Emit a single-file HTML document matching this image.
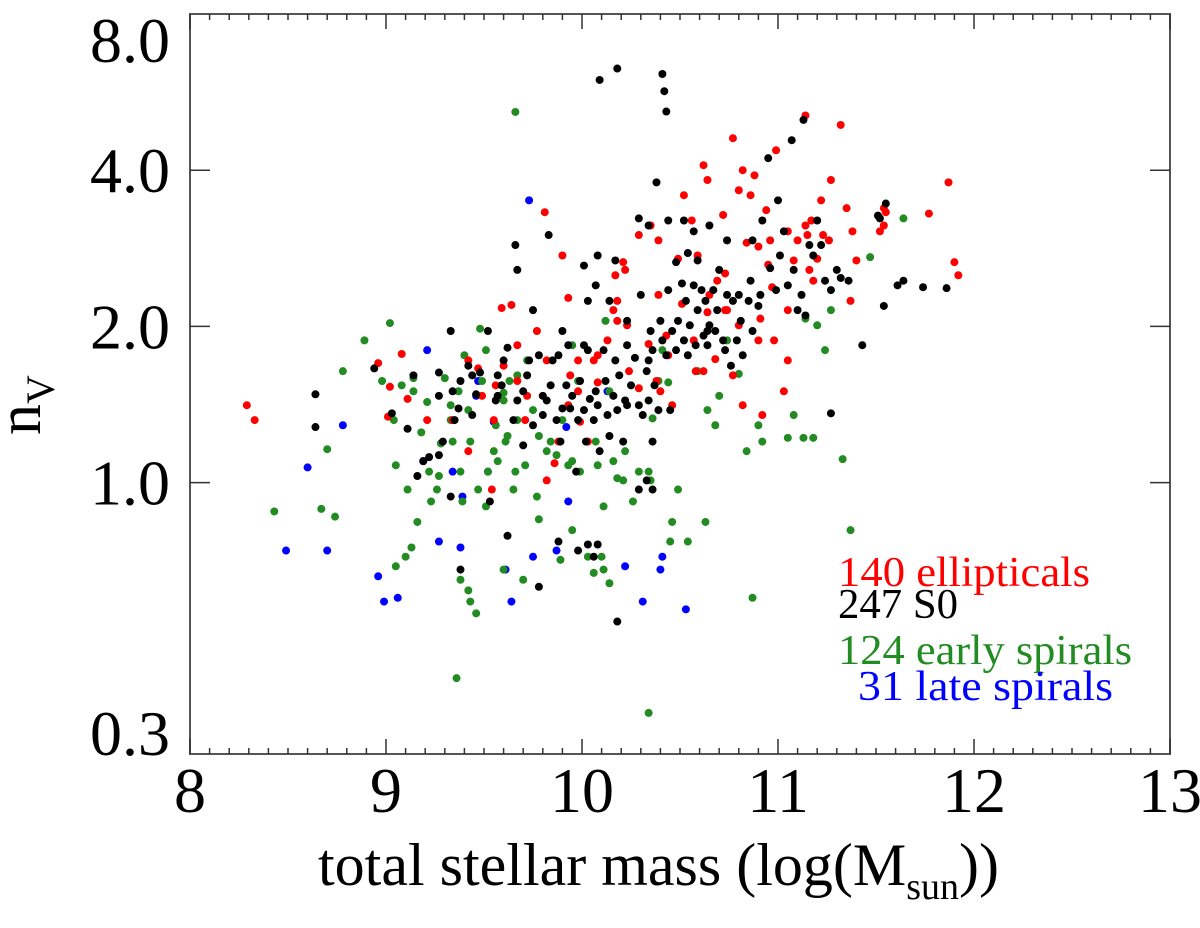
<!DOCTYPE html>
<html><head><meta charset="utf-8"><style>
html,body{margin:0;padding:0;background:#fff;}
svg{display:block;font-family:"Liberation Serif",serif;}
</style></head><body>
<svg id="chart" width="1200" height="928" viewBox="0 0 1200 928">
<rect x="0" y="0" width="1200" height="928" fill="#fff"/>
<g id="axes"></g>
<g id="points"></g>
<text x="40" y="405" font-size="62" text-anchor="middle" transform="rotate(-90 40 405)">n<tspan font-size="40" dy="14">V</tspan></text>
<text x="318" y="885" font-size="60">total stellar mass (log(M<tspan font-size="38" dy="14">sun</tspan><tspan dy="-14">))</tspan></text>
<g font-size="42">
<text x="838" y="586" fill="#ff0000" textLength="252" lengthAdjust="spacingAndGlyphs">140 ellipticals</text>
<text x="838" y="618" fill="#000" textLength="120" lengthAdjust="spacingAndGlyphs">247 S0</text>
<text x="838" y="664" fill="#228b22" textLength="294" lengthAdjust="spacingAndGlyphs">124 early spirals</text>
<text x="858" y="700" fill="#0000ff" textLength="255" lengthAdjust="spacingAndGlyphs">31 late spirals</text>
</g>
</svg>
<script>
const xTicks = [8,9,10,11,12,13];
const yTicks = [8.0,4.0,2.0,1.0,0.3];
const yTickLabels = ["8.0","4.0","2.0","1.0","0.3"];
const ellipticals = [[8.29,1.41],[8.33,1.32],[8.96,1.70],[9.02,1.53],[9.01,1.34],[9.08,1.77],[9.21,1.32],[9.34,1.32],[9.54,0.97],[9.64,2.20],[9.67,1.57],[9.71,1.32],[9.77,1.96],[9.82,1.72],[9.81,3.32],[9.86,1.09],[9.93,2.27],[9.94,1.61],[9.99,1.31],[10.03,1.20],[10.08,1.56],[10.13,1.88],[10.16,2.15],[10.17,2.51],[10.18,2.05],[10.21,2.66],[10.22,2.57],[10.24,1.64],[10.29,1.52],[10.34,1.85],[10.39,2.30],[10.40,1.50],[10.43,1.92],[10.46,1.41],[10.49,2.70],[10.51,2.21],[10.57,1.88],[10.58,1.64],[10.59,2.74],[10.62,1.64],[10.65,2.30],[10.69,2.45],[10.64,3.83],[10.72,3.28],[10.73,2.53],[10.74,2.15],[10.77,1.61],[10.80,2.01],[10.82,1.41],[10.84,2.90],[10.86,3.58],[10.88,3.91],[10.90,1.88],[10.92,1.35],[10.94,3.35],[10.95,2.63],[10.96,2.93],[10.98,1.88],[10.99,4.37],[11.03,1.50],[11.05,1.72],[11.08,2.68],[11.10,2.93],[11.14,5.10],[11.15,3.0],[11.16,2.57],[11.05,3.05],[11.18,2.45],[11.22,3.50],[11.26,2.93],[11.27,3.83],[11.32,4.89],[11.35,3.38],[11.37,2.24],[11.40,2.68],[11.38,3.05],[11.54,3.38],[11.55,3.32],[11.54,3.13],[11.52,3.05],[11.77,3.30],[11.87,3.79],[11.90,2.66],[11.92,2.51],[10.80,3.66],[10.82,4.0],[10.77,4.61],[10.62,4.09],[10.56,3.20],[10.52,3.58],[10.39,2.93],[10.35,3.13],[10.29,3.0],[10.23,2.01],[10.08,1.76],[9.98,1.72],[9.93,1.41],[9.88,1.20],[9.82,1.01],[9.72,1.47],[9.67,1.84],[9.60,1.68],[9.55,1.32],[9.56,1.54],[9.49,1.47],[9.42,1.15],[9.11,1.45],[9.42,1.72],[9.47,1.66],[9.59,2.17],[9.90,2.74],[9.98,1.50],[10.06,1.72],[10.18,2.24],[10.38,1.57],[10.44,1.76],[10.64,2.13],[10.68,1.73],[10.73,2.15],[10.91,2.07],[10.97,2.38],[11.05,2.15],[11.14,3.13],[11.17,3.20],[11.20,2.70],[11.23,3.0],[10.90,2.85]];
const s0 = [[8.64,1.48],[8.64,1.28],[9.03,1.36],[8.94,1.66],[9.11,1.27],[9.14,1.61],[9.22,1.12],[9.27,1.47],[9.27,1.63],[9.29,1.20],[9.33,1.96],[9.34,1.50],[9.37,1.39],[9.38,1.57],[9.42,1.68],[9.44,1.35],[9.46,1.48],[9.48,1.63],[9.52,1.96],[9.53,0.92],[9.56,1.44],[9.57,1.61],[9.59,1.54],[9.62,1.82],[9.65,1.32],[9.67,1.44],[9.70,1.18],[9.72,1.61],[9.75,1.29],[9.78,1.76],[9.80,1.35],[9.82,1.44],[9.84,1.54],[9.85,1.72],[9.87,1.32],[9.89,1.20],[9.90,1.39],[9.92,1.54],[9.93,1.84],[9.94,1.39],[9.95,1.47],[9.97,1.05],[9.98,1.32],[9.99,1.57],[10.01,1.38],[10.02,1.20],[10.03,1.80],[10.04,1.45],[10.06,1.32],[10.07,1.50],[10.08,1.41],[10.09,1.15],[10.11,1.80],[10.12,1.57],[10.13,1.35],[10.14,1.23],[10.16,1.47],[10.17,1.72],[10.18,1.38],[10.19,1.61],[10.21,1.20],[10.22,1.44],[10.23,1.84],[10.25,1.54],[10.27,1.74],[10.29,1.41],[10.30,2.30],[10.31,1.35],[10.33,1.64],[10.34,1.44],[10.35,1.96],[10.36,1.80],[10.37,1.54],[10.39,1.38],[10.40,2.05],[10.41,1.88],[10.43,1.76],[10.44,2.35],[10.45,1.38],[10.46,1.96],[10.48,1.80],[10.49,2.05],[10.51,2.42],[10.52,1.88],[10.53,2.24],[10.54,1.76],[10.55,2.01],[10.57,2.40],[10.58,1.84],[10.59,2.15],[10.61,2.35],[10.62,1.92],[10.63,2.24],[10.64,1.84],[10.65,2.01],[10.67,2.35],[10.68,1.96],[10.69,2.15],[10.70,2.57],[10.72,1.88],[10.73,1.80],[10.74,2.30],[10.76,1.68],[10.77,2.24],[10.79,1.88],[10.80,2.30],[10.81,2.05],[10.82,1.76],[10.85,2.24],[10.86,2.45],[10.87,1.96],[10.90,2.19],[10.91,2.30],[10.92,3.20],[10.95,4.22],[10.96,2.59],[10.99,2.35],[11.0,3.50],[11.01,2.74],[11.03,3.05],[11.05,2.40],[11.07,4.57],[11.08,2.57],[11.10,2.15],[11.12,2.30],[11.13,5.0],[11.14,2.10],[11.16,2.87],[11.18,2.74],[11.20,3.20],[11.22,2.87],[11.24,2.45],[11.27,2.35],[11.30,2.57],[11.32,2.48],[11.36,2.45],[11.43,1.84],[11.51,3.27],[11.52,3.23],[11.54,2.19],[11.55,3.45],[11.61,2.40],[11.64,2.45],[11.74,2.38],[11.86,2.37],[11.27,1.36],[10.18,0.54],[10.08,0.76],[10.06,0.72],[10.09,5.97],[10.18,6.28],[10.41,6.13],[10.42,5.68],[10.43,5.19],[10.38,3.79],[10.17,2.68],[10.08,2.74],[10.07,2.40],[10.01,2.62],[9.67,2.57],[9.66,2.87],[9.83,3.0],[9.90,1.96],[9.75,2.15],[9.60,1.72],[9.57,1.47],[9.44,1.61],[9.35,1.32],[9.27,1.13],[9.19,1.10],[9.16,1.03],[9.33,0.94],[9.38,0.68],[9.62,0.79],[9.78,0.63],[9.88,0.77],[9.98,0.74],[10.03,0.76],[10.23,1.41],[10.34,1.72],[10.33,1.01],[10.29,0.97],[10.36,0.97],[10.36,1.20],[10.44,3.20],[10.52,3.20],[10.54,2.77],[10.57,3.05],[10.64,1.96],[10.65,3.13],[10.29,3.23],[10.34,3.13],[10.23,2.05],[10.14,2.24],[10.01,1.84],[9.88,1.76],[9.80,1.47],[9.73,1.72],[9.70,1.50],[10.03,2.24],[10.48,2.66],[10.59,2.68],[10.74,2.93],[10.87,2.93]];
const earlySpirals = [[8.43,0.88],[8.67,0.89],[8.70,1.16],[8.74,0.86],[8.78,1.64],[8.89,1.88],[8.98,1.57],[9.02,2.03],[9.04,1.32],[9.05,1.08],[9.05,0.69],[9.08,1.54],[9.11,0.97],[9.13,0.75],[9.14,1.59],[9.16,0.84],[9.18,1.25],[9.21,1.43],[9.22,1.05],[9.23,0.92],[9.26,0.97],[9.27,1.03],[9.28,1.19],[9.30,1.59],[9.33,1.32],[9.34,1.20],[9.37,1.50],[9.38,1.05],[9.39,0.92],[9.40,1.76],[9.43,1.20],[9.43,0.59],[9.46,0.56],[9.47,0.97],[9.48,1.98],[9.49,1.57],[9.51,0.90],[9.52,1.05],[9.55,1.15],[9.56,1.29],[9.57,1.10],[9.60,1.44],[9.61,1.20],[9.63,1.57],[9.65,0.97],[9.66,1.05],[9.67,1.61],[9.71,1.08],[9.72,1.72],[9.75,1.38],[9.77,0.94],[9.78,0.85],[9.82,1.15],[9.84,1.20],[9.87,1.13],[9.90,1.32],[9.93,1.08],[9.95,1.10],[9.98,1.57],[9.99,1.05],[10.03,0.72],[10.06,0.67],[10.07,1.20],[10.08,1.08],[10.10,0.72],[10.11,0.68],[10.12,2.05],[10.14,1.50],[10.16,1.10],[10.18,1.02],[10.21,1.01],[10.22,1.15],[10.26,0.92],[10.29,1.05],[10.34,1.05],[10.35,1.01],[10.36,1.33],[10.39,1.57],[10.41,1.80],[10.44,1.56],[10.45,0.77],[10.46,0.84],[10.49,0.97],[10.54,0.77],[10.59,1.64],[10.63,0.84],[10.64,1.38],[10.68,1.29],[10.70,1.47],[10.74,1.88],[10.80,1.62],[10.84,1.15],[10.87,0.60],[10.90,1.29],[10.92,1.20],[11.05,1.22],[11.08,1.35],[11.13,1.22],[11.14,2.07],[11.18,1.22],[11.20,2.01],[11.24,1.80],[11.27,2.15],[11.33,1.11],[11.37,0.81],[11.47,2.72],[11.64,3.23],[9.36,0.42],[10.34,0.36],[10.14,0.64],[10.11,0.90],[9.95,0.81],[9.89,0.71],[9.95,1.84],[9.78,1.23],[9.67,1.32],[9.62,1.23],[9.60,1.49],[9.51,1.80],[9.42,1.38],[9.33,1.41],[9.14,1.50],[9.10,0.72],[9.38,0.65],[9.42,0.62],[9.60,0.68],[9.70,0.65],[9.66,5.18]];
const lateSpirals = [[8.49,0.74],[8.60,1.07],[8.70,0.74],[8.78,1.29],[8.96,0.66],[8.99,0.59],[9.06,0.60],[9.19,1.10],[9.21,1.80],[9.27,0.77],[9.34,1.05],[9.38,0.75],[9.39,0.94],[9.46,1.47],[9.52,1.05],[9.55,1.31],[9.61,0.68],[9.64,0.59],[9.73,3.50],[9.75,0.72],[9.87,0.74],[9.92,1.28],[9.93,0.92],[10.13,1.50],[10.22,0.69],[10.40,0.68],[10.41,0.72],[10.53,0.57],[10.31,0.59],[9.47,1.57]];

const NS = "http://www.w3.org/2000/svg";
const L = 190, R = 1170, T = 14, B = 754;
const xMin = 8, xMax = 13, yMin = 0.3, yMax = 8.0;
function xPos(v){ return L + (v - xMin) / (xMax - xMin) * (R - L); }
function yPos(v){ return B - (Math.log(v) - Math.log(yMin)) / (Math.log(yMax) - Math.log(yMin)) * (B - T); }
function mk(tag, attrs, parent){
  const e = document.createElementNS(NS, tag);
  for (const k in attrs) e.setAttribute(k, attrs[k]);
  parent.appendChild(e);
  return e;
}
const axes = document.getElementById('axes');
const frame = mk('rect', {x:L, y:T, width:R-L, height:B-T, fill:'none', stroke:'#555', 'stroke-width':2}, axes);


for (let i = 0; i <= (xMax - xMin) * 10; i++) {
  const v = xMin + i / 10;
  const x = xPos(v);
  const major = i % 10 === 0;
  const len = major ? 15 : 6;
  mk('line', {x1:x, y1:B, x2:x, y2:B-len, stroke:'#333', 'stroke-width':1.5}, axes);
  mk('line', {x1:x, y1:T, x2:x, y2:T+len, stroke:'#333', 'stroke-width':1.5}, axes);
}
xTicks.forEach(v => {
  const t = mk('text', {x:xPos(v), y:812, 'font-size':64, 'text-anchor':'middle'}, axes);
  t.textContent = String(v);
  
  
});
yTicks.forEach((v, i) => {
  const y = yPos(v);
  if (v !== 0.3 && v !== 8.0) {
    mk('line', {x1:L, y1:y, x2:L+20, y2:y, stroke:'#333', 'stroke-width':1.5}, axes);
    mk('line', {x1:R, y1:y, x2:R-20, y2:y, stroke:'#333', 'stroke-width':1.5}, axes);
  }
  let by = y + 22;
  if (v === 8.0) by = 62;
  if (v === 0.3) by = 755;
  const t = mk('text', {x:170, y:by, 'font-size':64, 'text-anchor':'end'}, axes);
  t.textContent = yTickLabels[i];
  
  
});
const pts = document.getElementById('points');
function drawSeries(data, color, name){
  const g = mk('g', {fill:color}, pts);
  
  
  data.forEach(d => {
    const c = mk('circle', {cx:xPos(d[0]), cy:yPos(d[1]), r:4}, g);
    
    
  });
}
drawSeries(lateSpirals, '#0000ff', 'late-spiral');
drawSeries(earlySpirals, '#228b22', 'early-spiral');
drawSeries(ellipticals, '#ff0000', 'elliptical');
drawSeries(s0, '#000000', 's0');
</script>
</body></html>
